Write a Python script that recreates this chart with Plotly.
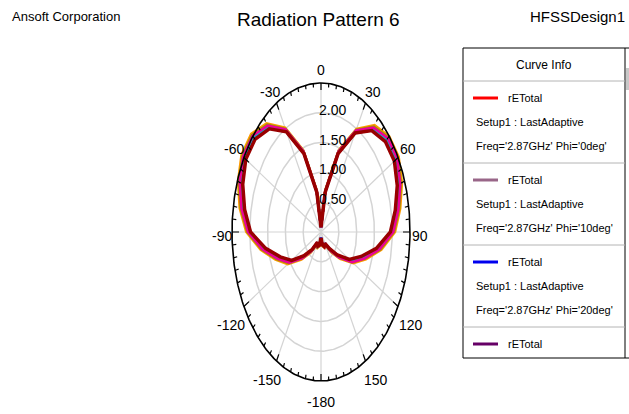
import numpy as np
import plotly.graph_objects as go

# ---------------- data ----------------
theta_deg = [-180, -170, -160, -150, -140, -130, -120, -110, -100, -90, -80, -70, -60, -50, -40, -30, -20, -10,
             0, 10, 20, 30, 40, 50, 60, 70, 80, 90, 100, 110, 120, 130, 140, 150, 160, 170, 180]

r_phi0 = [0.10,0.22,0.25,0.21,0.40,0.64,0.98,1.26,1.62,2.01,2.22,2.38,2.47,2.45,2.29,1.96,1.42,0.69,0.08,0.69,1.42,1.94,2.25,2.39,2.41,2.31,2.16,1.98,1.62,1.24,0.96,0.63,0.38,0.23,0.26,0.22,0.10]
r_phi10 = [0.10,0.22,0.25,0.21,0.39,0.63,0.97,1.25,1.61,2.00,2.21,2.37,2.46,2.44,2.28,1.95,1.41,0.69,0.08,0.69,1.41,1.93,2.24,2.38,2.40,2.30,2.15,1.97,1.61,1.23,0.95,0.62,0.37,0.22,0.26,0.22,0.10]
r_phi20 = [0.09,0.21,0.26,0.21,0.39,0.63,0.96,1.24,1.60,1.99,2.20,2.36,2.45,2.43,2.27,1.95,1.41,0.68,0.08,0.68,1.41,1.93,2.23,2.37,2.39,2.29,2.14,1.96,1.60,1.22,0.94,0.61,0.37,0.22,0.27,0.21,0.09]
r_phi30 = [0.10,0.22,0.25,0.20,0.38,0.62,0.96,1.23,1.59,1.98,2.19,2.35,2.45,2.43,2.27,1.94,1.40,0.68,0.08,0.68,1.40,1.92,2.23,2.37,2.39,2.29,2.13,1.96,1.59,1.21,0.93,0.61,0.36,0.22,0.26,0.22,0.10]
r_phi40 = [0.12,0.24,0.28,0.24,0.45,0.72,1.08,1.36,1.72,2.10,2.32,2.48,2.58,2.56,2.38,2.02,1.46,0.72,0.09,0.72,1.46,2.00,2.34,2.50,2.52,2.42,2.26,2.08,1.72,1.34,1.05,0.70,0.44,0.25,0.28,0.24,0.12]
r_phi50 = [0.11,0.23,0.27,0.23,0.43,0.69,1.05,1.33,1.69,2.07,2.29,2.45,2.55,2.53,2.35,2.00,1.45,0.71,0.09,0.71,1.45,1.98,2.31,2.47,2.49,2.39,2.23,2.05,1.69,1.31,1.02,0.67,0.42,0.24,0.27,0.23,0.11]
r_phi60 = [0.10,0.22,0.26,0.22,0.41,0.66,1.01,1.29,1.65,2.03,2.25,2.41,2.50,2.48,2.31,1.98,1.43,0.70,0.08,0.70,1.43,1.96,2.27,2.42,2.44,2.34,2.19,2.01,1.65,1.28,0.99,0.65,0.40,0.23,0.26,0.22,0.10]
r_phi70 = [0.11,0.23,0.26,0.22,0.42,0.68,1.03,1.31,1.67,2.05,2.27,2.43,2.53,2.51,2.33,1.99,1.44,0.70,0.08,0.70,1.44,1.97,2.29,2.45,2.47,2.37,2.21,2.03,1.67,1.30,1.01,0.66,0.41,0.24,0.27,0.22,0.11]
r_phi80 = [0.10,0.22,0.25,0.20,0.38,0.62,0.95,1.22,1.58,1.98,2.18,2.34,2.44,2.42,2.26,1.94,1.40,0.68,0.08,0.68,1.40,1.92,2.22,2.36,2.38,2.28,2.12,1.95,1.58,1.20,0.92,0.60,0.36,0.22,0.26,0.22,0.10]

phi_labels = ["0deg", "10deg", "20deg", "30deg", "40deg", "50deg", "60deg", "70deg", "80deg"]
curves = [r_phi0, r_phi10, r_phi20, r_phi30, r_phi40, r_phi50, r_phi60, r_phi70, r_phi80]
colors = ["#ff0000", "#996688", "#0000ee", "#660066", "#ff9900", "#999900", "#00bbcc", "#ee0099", "#990000"]
widths = [2.5, 2.5, 2.5, 2.5, 2.5, 2.5, 2.5, 2.5, 3.5]

angle_ticks = [0, 30, 60, 90, 120, 150, 180, -150, -120, -90, -60, -30]
angle_tick_text = ["0", "30", "60", "90", "120", "150", "-180", "-150", "-120", "-90", "-60", "-30"]
radial_ticks = [0.5, 1.0, 1.5, 2.0]
radial_tick_text = ["0.50", "1.00", "1.50", "2.00"]
r_max = 2.5

# ---------------- layout geometry ----------------
W, H = 629, 414
cx, cy = 321, 232          # centre in pixels
rx, ry = 89, 149           # outer ellipse radii in pixels
R_RANGE = 2.8
sx, sy = rx / r_max, ry / r_max
x_dom = [(cx - R_RANGE * sx) / W, (cx + R_RANGE * sx) / W]
y_dom = [1 - (cy + R_RANGE * sy) / H, 1 - (cy - R_RANGE * sy) / H]

FONT = "Liberation Sans Narrow, Arial Narrow, Liberation Sans, Arial, sans-serif"


def px(x):
    return x / W


def py(y):
    return 1 - y / H


fig = go.Figure()

# grid circles
t = np.linspace(0, 2 * np.pi, 361)
for rr in radial_ticks:
    fig.add_trace(go.Scatter(x=rr * np.sin(t), y=rr * np.cos(t), mode="lines",
                             line=dict(color="#d4d4d4", width=1.5), hoverinfo="skip", showlegend=False))
# spokes
for a in range(0, 360, 30):
    ar = np.deg2rad(a)
    fig.add_trace(go.Scatter(x=[0, r_max * np.sin(ar)], y=[0, r_max * np.cos(ar)], mode="lines",
                             line=dict(color="#d4d4d4", width=1.2), hoverinfo="skip", showlegend=False))

# data curves
th = np.deg2rad(np.array(theta_deg, dtype=float))
for rvals, col, w, ph in zip(curves, colors, widths, phi_labels):
    r = np.array(rvals)
    fig.add_trace(go.Scatter(x=r * np.sin(th), y=r * np.cos(th), mode="lines",
                             line=dict(color=col, width=w), name="rETotal Phi='%s'" % ph,
                             showlegend=False))

# outer ellipse
fig.add_trace(go.Scatter(x=r_max * np.sin(t), y=r_max * np.cos(t), mode="lines",
                         line=dict(color="black", width=1.6), hoverinfo="skip", showlegend=False))
# outer ticks every 5 deg
tx, ty = [], []
for a in range(0, 360, 5):
    ar = np.deg2rad(a)
    plen = 7.0 if a % 30 == 0 else 4.0
    unit = np.hypot(np.sin(ar) * sx, np.cos(ar) * sy)
    L = plen / unit
    tx += [r_max * np.sin(ar), (r_max - L) * np.sin(ar), None]
    ty += [r_max * np.cos(ar), (r_max - L) * np.cos(ar), None]
fig.add_trace(go.Scatter(x=tx, y=ty, mode="lines", line=dict(color="black", width=1.2),
                         hoverinfo="skip", showlegend=False))

annotations = []
# angular labels (pixel shifts for placement)
label_shift = {0: (0, 13), 30: (7, 11), 60: (10, 9), 90: (10, -4), 120: (13, -18), 150: (10, -19),
               180: (0, -21)}
for a, txt in zip(angle_ticks, angle_tick_text):
    ar = np.deg2rad(a)
    key = abs(a)
    dx, dy = label_shift[key]
    if a < 0:
        dx = -dx
    annotations.append(dict(x=r_max * np.sin(ar), y=r_max * np.cos(ar), xref="x", yref="y",
                            text=txt, showarrow=False, xshift=dx, yshift=dy,
                            xanchor="center", yanchor="middle",
                            font=dict(family=FONT, size=14, color="black")))
# radial labels
for rr, txt in zip(radial_ticks, radial_tick_text):
    annotations.append(dict(x=0, y=rr, xref="x", yref="y", text=txt, showarrow=False,
                            xanchor="left", yanchor="middle", xshift=-4, yshift=3,
                            font=dict(family=FONT, size=14, color="black")))

# header texts
annotations.append(dict(x=px(10), y=py(17), xref="paper", yref="paper", text="Ansoft Corporation",
                        showarrow=False, xanchor="left", yanchor="middle",
                        font=dict(family=FONT, size=13, color="black")))
annotations.append(dict(x=px(318), y=py(20), xref="paper", yref="paper", text="Radiation Pattern 6",
                        showarrow=False, xanchor="center", yanchor="middle",
                        font=dict(family=FONT, size=19, color="black")))
annotations.append(dict(x=px(627), y=py(17), xref="paper", yref="paper", text="HFSSDesign1",
                        showarrow=False, xanchor="right", yanchor="middle",
                        font=dict(family=FONT, size=15, color="black")))

# legend box (Curve Info)
shapes = []
LX0, LX1, LY0, LY1 = 463, 625, 48, 358
shapes.append(dict(type="rect", xref="paper", yref="paper", x0=px(LX0), x1=px(LX1), y0=py(LY1), y1=py(LY0),
                   line=dict(color="black", width=1), fillcolor="white", layer="below"))
shapes.append(dict(type="line", xref="paper", yref="paper", x0=px(LX1), x1=px(629), y0=py(LY0), y1=py(LY0),
                   line=dict(color="black", width=1)))
shapes.append(dict(type="line", xref="paper", yref="paper", x0=px(LX1), x1=px(629), y0=py(LY1), y1=py(LY1),
                   line=dict(color="black", width=1)))
shapes.append(dict(type="rect", xref="paper", yref="paper", x0=px(626), x1=px(629), y0=py(90), y1=py(68),
                   line=dict(width=0), fillcolor="#c8c8c8"))
for yy in [81, 163, 245, 327]:
    shapes.append(dict(type="line", xref="paper", yref="paper", x0=px(LX0), x1=px(LX1), y0=py(yy), y1=py(yy),
                       line=dict(color="#b4b4b4", width=1)))
annotations.append(dict(x=px(544), y=py(65), xref="paper", yref="paper", text="Curve Info", showarrow=False,
                        xanchor="center", yanchor="middle",
                        font=dict(family=FONT, size=12, color="black")))
LFONT = dict(family=FONT, size=11, color="black")
for i in range(4):
    base = 98 + 82 * i
    shapes.append(dict(type="line", xref="paper", yref="paper", x0=px(473), x1=px(498), y0=py(base), y1=py(base),
                       line=dict(color=colors[i], width=3)))
    annotations.append(dict(x=px(506), y=py(base), xref="paper", yref="paper", text="rETotal",
                            showarrow=False, xanchor="left", yanchor="middle", font=LFONT))
    if i < 3:
        annotations.append(dict(x=px(474), y=py(base + 24), xref="paper", yref="paper",
                                text="Setup1 : LastAdaptive", showarrow=False, xanchor="left",
                                yanchor="middle", font=LFONT))
        annotations.append(dict(x=px(474), y=py(base + 48), xref="paper", yref="paper",
                                text="Freq='2.87GHz' Phi='%s'" % phi_labels[i], showarrow=False,
                                xanchor="left", yanchor="middle", font=LFONT))

fig.update_layout(
    width=W, height=H, margin=dict(l=0, r=0, t=0, b=0),
    paper_bgcolor="white", plot_bgcolor="white",
    xaxis=dict(domain=x_dom, range=[-R_RANGE, R_RANGE], visible=False, fixedrange=True),
    yaxis=dict(domain=y_dom, range=[-R_RANGE, R_RANGE], visible=False, fixedrange=True),
    annotations=annotations, shapes=shapes, showlegend=False,
)
fig.write_html("out.html")
